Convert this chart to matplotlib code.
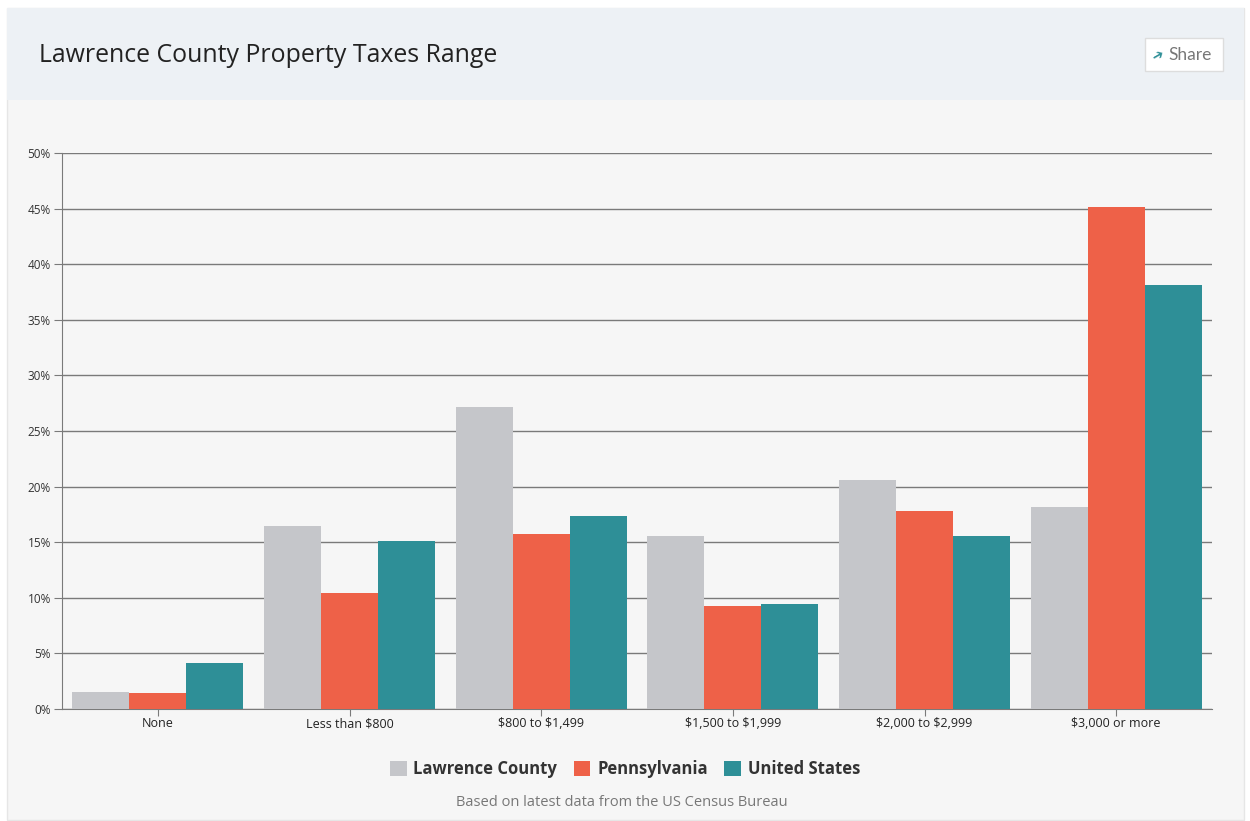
import matplotlib
matplotlib.use("Agg")
import matplotlib.pyplot as plt
from matplotlib.patches import Rectangle
import numpy as np

plt.rcParams["text.parse_math"] = False

categories = ["None", "Less than $800", "$800 to $1,499", "$1,500 to $1,999",
              "$2,000 to $2,999", "$3,000 or more"]
lawrence = [1.5, 16.5, 27.2, 15.6, 20.6, 18.2]
pennsylvania = [1.4, 10.4, 15.7, 9.3, 17.8, 45.1]
united_states = [4.1, 15.1, 17.4, 9.4, 15.6, 38.1]
series_names = ["Lawrence County", "Pennsylvania", "United States"]
colors = ["#c5c6ca", "#ee6148", "#2e8f97"]
yticks = [0, 5, 10, 15, 20, 25, 30, 35, 40, 45, 50]

W, H = 1250, 821
fig = plt.figure(figsize=(W / 100, H / 100), dpi=100)
fig.patch.set_facecolor("white")

def px(x, y, w, h):
    return (x / W, 1 - (y + h) / H, w / W, h / H)

# panel background
bg = fig.add_axes([0, 0, 1, 1], zorder=-10)
bg.set_xlim(0, W); bg.set_ylim(H, 0); bg.axis("off")
bg.add_patch(Rectangle((7, 8), 1237, 812, facecolor="#f6f6f6", edgecolor="#e6e6e6", lw=1))
bg.add_patch(Rectangle((7, 8), 1237, 92, facecolor="#edf1f5", edgecolor="none"))
bg.add_patch(Rectangle((1145, 38), 78, 33, facecolor="white", edgecolor="#dddddd", lw=1))
bg.text(39, 55, "Lawrence County Property Taxes Range", fontsize=17.9, family="Open Sans",
        color="#222222", va="center", ha="left")
bg.text(1168, 55, "Share", fontsize=12.5, family="Lato", color="#777777", va="center", ha="left")
bg.text(1158, 55, "\u2794", fontsize=10, family="DejaVu Sans", color="#2e8f97", va="center", ha="center",
        rotation=30)

ax = fig.add_axes(px(62, 153, 1150, 556))
ax.set_facecolor("none")
x = np.arange(len(categories))
bw = 0.297
for i, (vals, c, n) in enumerate(zip([lawrence, pennsylvania, united_states], colors, series_names)):
    ax.bar(x + (i - 1) * bw, vals, width=bw, color=c, label=n, zorder=3)

ax.set_xlim(-0.5, len(categories) - 0.5)
ax.set_ylim(0, 50)
ax.set_yticks(yticks)
ax.set_yticklabels([f"{v}%" for v in yticks], fontsize=8.5, family="Open Sans", color="#333333")
ax.set_xticks(x)
ax.set_xticklabels(categories, fontsize=9, family="Open Sans", color="#222222")
ax.grid(axis="y", color="#7a7a7a", lw=1, zorder=1)
for s in ["top", "right"]:
    ax.spines[s].set_visible(False)
ax.spines["left"].set_color("#7a7a7a")
ax.spines["bottom"].set_color("#7a7a7a")
ax.tick_params(axis="y", length=6, color="#7a7a7a", pad=2)
ax.tick_params(axis="x", length=5, color="#7a7a7a", pad=1)

leg = fig.legend(loc="center", bbox_to_anchor=(625 / W, 1 - 769 / H), ncol=3, frameon=False,
                 prop={"family": "Open Sans", "weight": "bold", "size": 12},
                 handlelength=1.0, handleheight=1.0, handletextpad=0.4, columnspacing=1.0)
for t in leg.get_texts():
    t.set_color("#333333")

bg.text(622, 802, "Based on latest data from the US Census Bureau", fontsize=10.5, family="Open Sans",
        color="#777777", ha="center", va="center")

fig.savefig("out.png", dpi=100, facecolor=fig.get_facecolor())
